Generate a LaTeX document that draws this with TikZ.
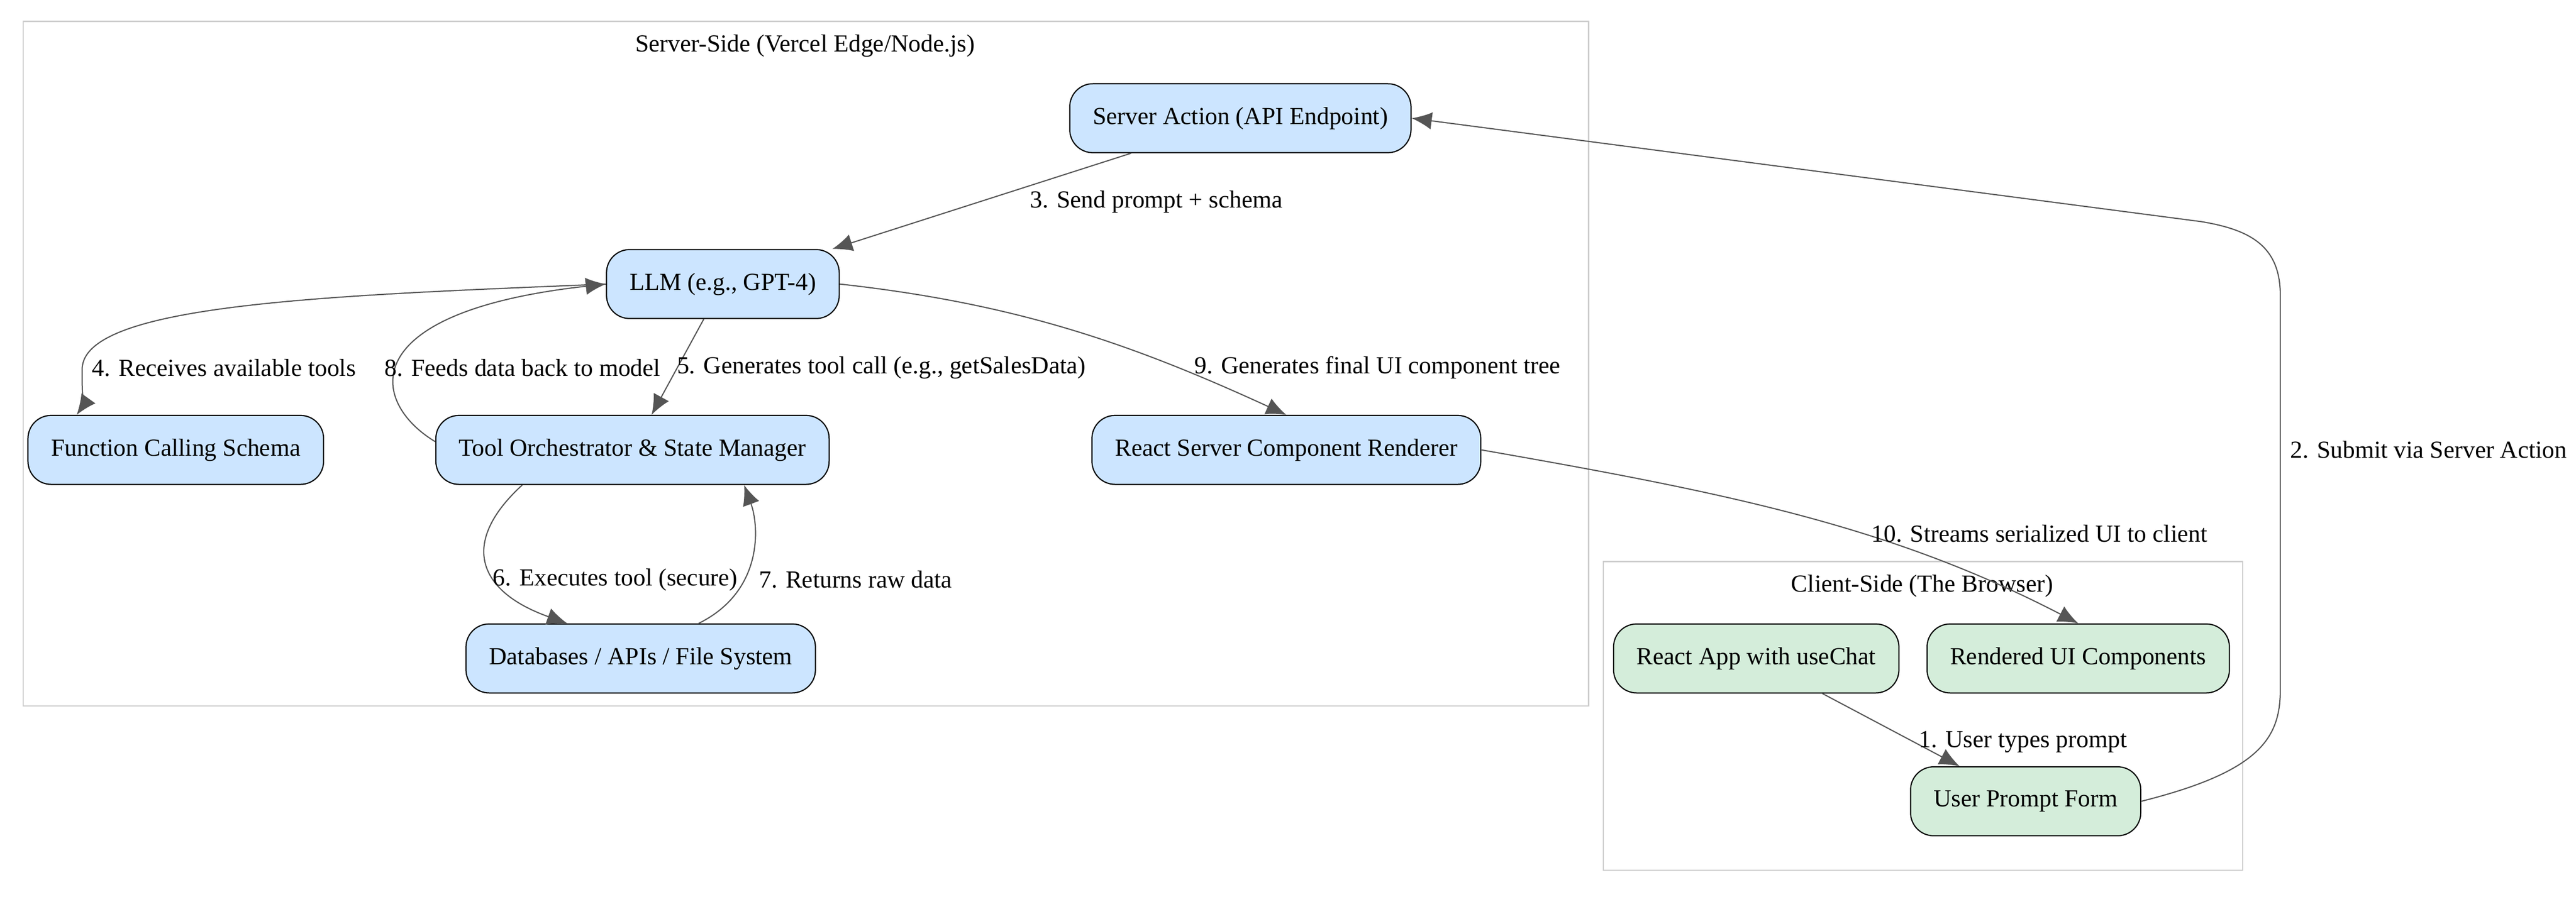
\documentclass[tikz,border=0pt]{standalone}
\usepackage{fontspec}
\setmainfont{Liberation Serif}
\usetikzlibrary{positioning,arrows.meta}
\definecolor{srvfill}{HTML}{CCE5FF}
\definecolor{clifill}{HTML}{D4EDDA}
\definecolor{edgegray}{HTML}{555555}
\definecolor{boxgray}{HTML}{CCCCCC}
\tikzset{
  box/.style={draw=black, rounded corners=8pt, minimum height=0.84cm, inner xsep=8pt, font=\fontsize{8.5}{10}\selectfont},
  srv/.style={box, fill=srvfill},
  cli/.style={box, fill=clifill},
  conn/.style={draw=edgegray, -{Latex[length=7pt,width=6pt]}},
  lbl/.style={font=\fontsize{8.5}{10}\selectfont, inner sep=1pt},
  cluster/.style={draw=boxgray}
}
\begin{document}
\begin{tikzpicture}[x=0.02cm, y=-0.02cm]
    \useasboundingbox (0,0) rectangle (1568,546);

    % Clusters
    \draw [cluster] (14,13) rectangle (967,430);
    \node [lbl] at (490,28) {Server-Side (Vercel Edge/Node.js)};
    \draw [cluster] (976,342) rectangle (1365,530);
    \node [lbl] at (1170,357) {Client-Side (The Browser)};

    % Server nodes
    \node [srv] (action) at (755,72) {Server Action (API Endpoint)};
    \node [srv] (llm) at (440,173) {LLM (e.g., GPT-4)};
    \node [srv] (schema) at (107,274) {Function Calling Schema};
    \node [srv] (orch) at (385,274) {Tool Orchestrator \& State Manager};
    \node [srv] (rsc) at (783,274) {React Server Component Renderer};
    \node [srv] (db) at (390,401) {Databases / APIs / File System};

    % Client nodes
    \node [cli] (app) at (1069,401) {React App with useChat};
    \node [cli] (rendered) at (1265,401) {Rendered UI Components};
    \node [cli] (form) at (1233,488) {User Prompt Form};

    % Edges
    \draw [conn] (app) -- (form);
    \node [lbl, anchor=west] at (1166,452) {1. User types prompt};
    \draw [conn] (form.east) .. controls (1375,470) and (1388,450) .. (1388,420)
        -- (1388,180) .. controls (1388,150) and (1370,140) .. (1340,135) -- (action.east);
    \node [lbl, anchor=west] at (1392,274) {2. Submit via Server Action};
    \draw [conn] (action) -- (llm);
    \node [lbl, anchor=west] at (625,123) {3. Send prompt + schema};
    \draw [conn] (llm.west) .. controls (200,180) and (50,185) .. (50,225)
        .. controls (50,240) and (50,248) .. ([xshift=0.6cm]schema.north west);
    \node [lbl, anchor=west] at (54,224) {4. Receives available tools};
    \draw [conn] (llm) -- (orch);
    \node [lbl, anchor=west] at (410,224) {5. Generates tool call (e.g., getSalesData)};
    \draw [conn] ([xshift=1.06cm]orch.south west) .. controls (280,330) and (290,360) .. ([xshift=1.24cm]db.north west);
    \node [lbl, anchor=west] at (298,353) {6. Executes tool (secure)};
    \draw [conn] ([xshift=2.84cm]db.north west) .. controls (465,360) and (462,320) .. ([xshift=3.76cm]orch.south west);
    \node [lbl, anchor=west] at (460,353) {7. Returns raw data};
    \draw [conn] ([yshift=0.1cm]orch.west) .. controls (225,245) and (215,190) .. (llm.west);
    \node [lbl, anchor=west] at (232,224) {8. Feeds data back to model};
    \draw [conn] (llm.east) .. controls (620,185) and (690,210) .. (rsc.north);
    \node [lbl, anchor=west] at (725,224) {9. Generates final UI component tree};
    \draw [conn] (rsc.east) .. controls (1050,300) and (1150,320) .. (rendered.north);
    \node [lbl, anchor=west] at (1137,325) {10. Streams serialized UI to client};
\end{tikzpicture}
\end{document}
